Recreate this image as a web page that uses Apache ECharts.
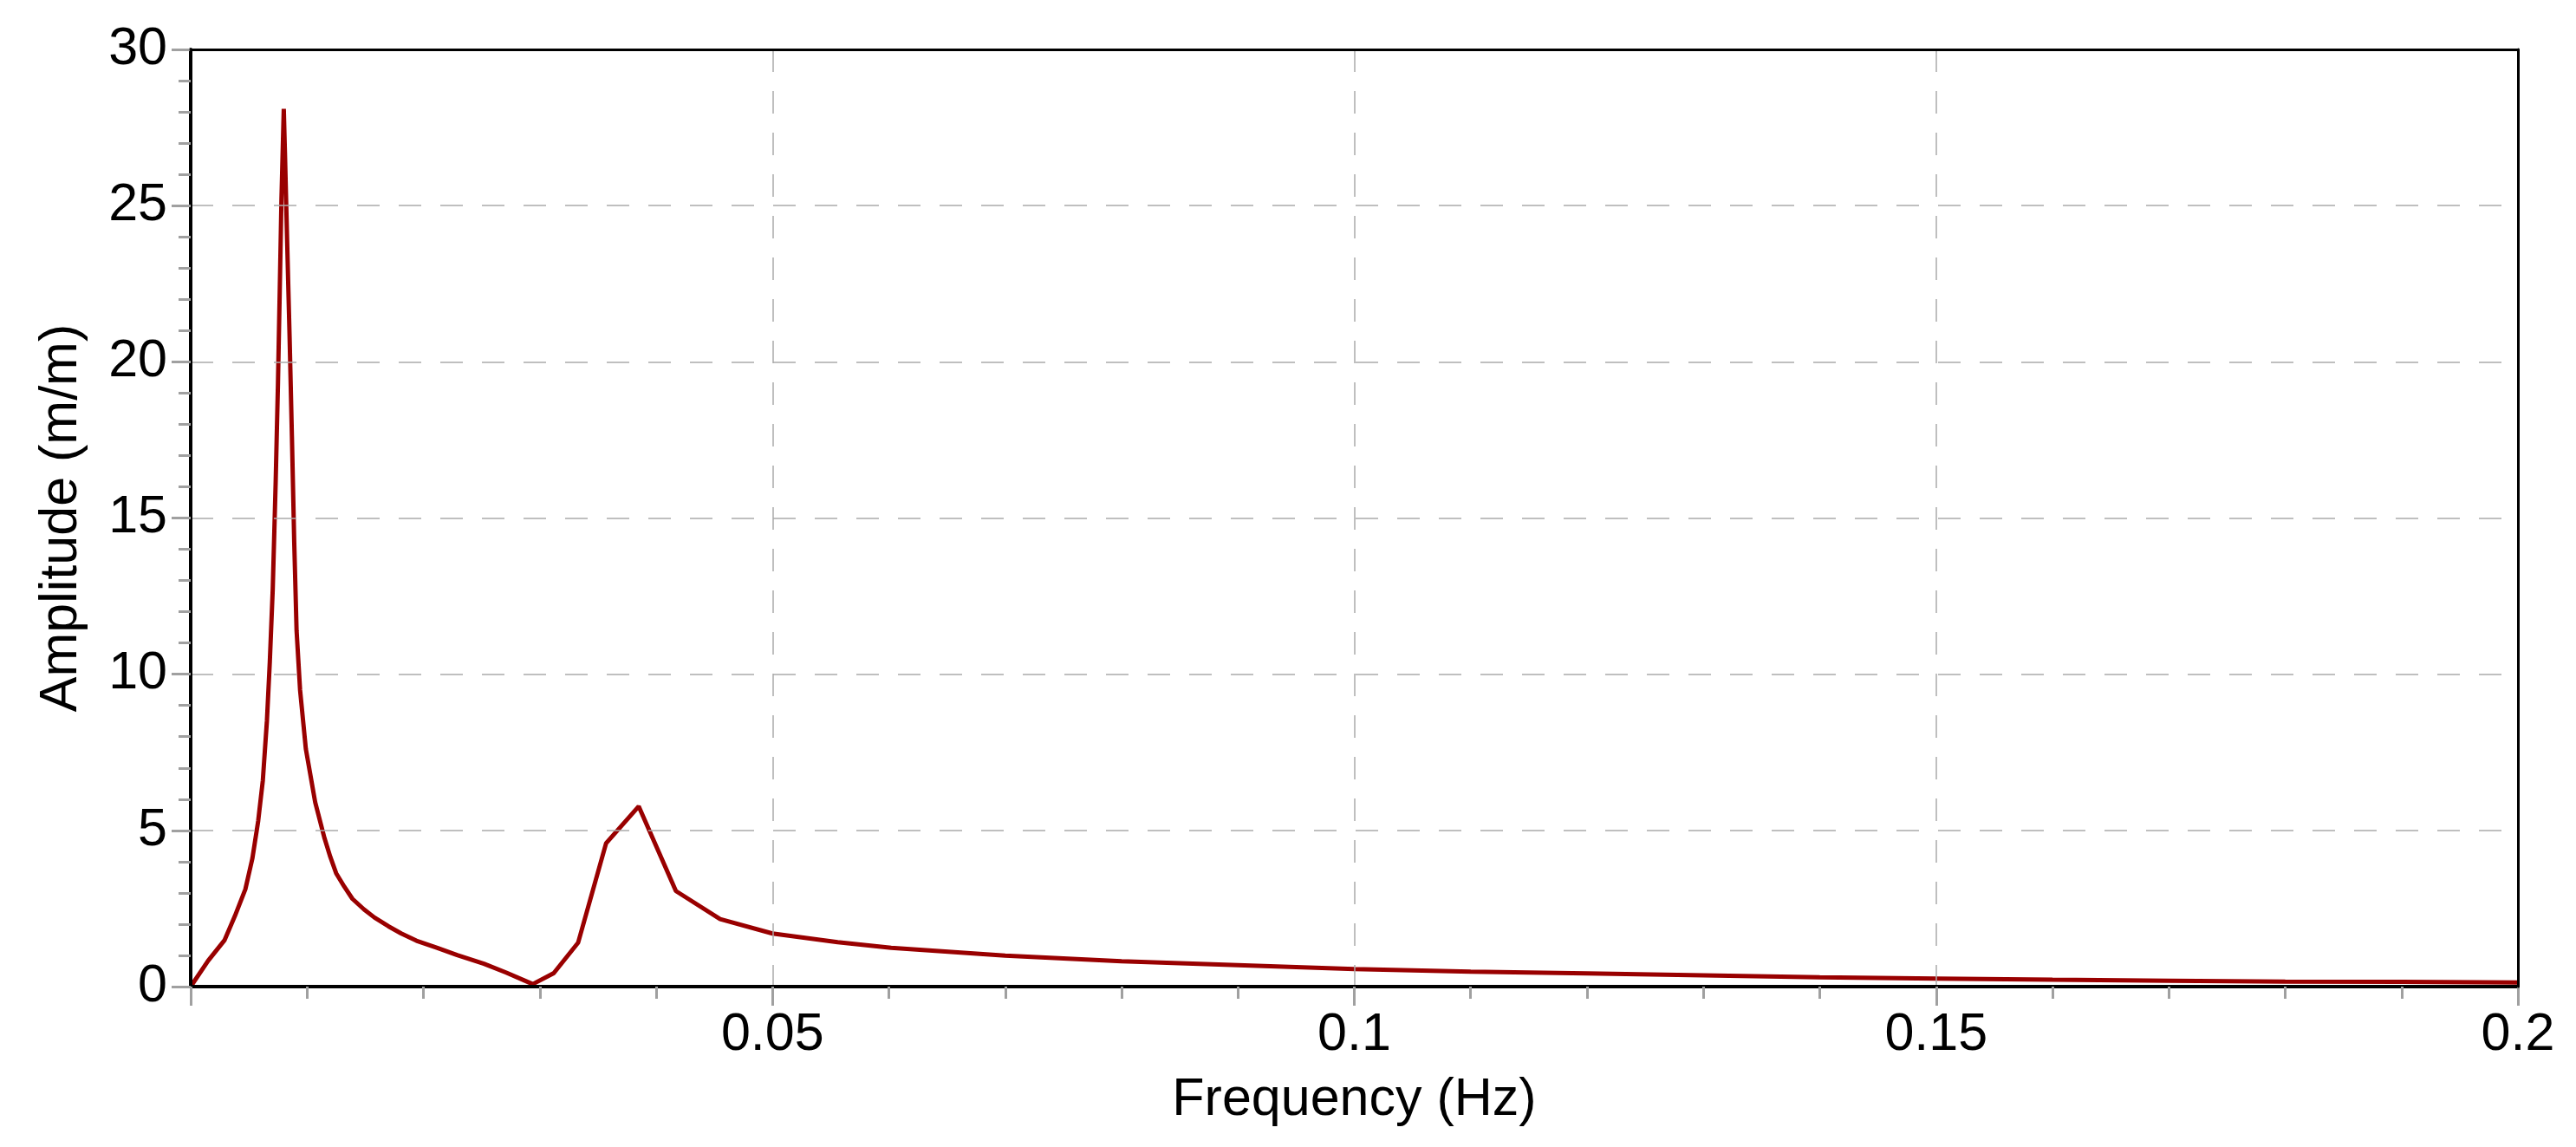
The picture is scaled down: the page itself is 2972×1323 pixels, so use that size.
<!DOCTYPE html>
<html>
<head>
<meta charset="utf-8">
<script src="https://cdn.jsdelivr.net/npm/echarts@6/dist/echarts.min.js"></script>
<style>
html,body{margin:0;padding:0;background:#ffffff;}
#c{width:2972px;height:1323px;}
</style>
</head>
<body>
<div id="c"></div>
<script>
// Frequency (Hz) of each sample
const freq = [0, 0.0015, 0.0029, 0.0038, 0.0047, 0.0053, 0.0058, 0.0062, 0.00655, 0.0068,
  0.00705, 0.0073, 0.0075, 0.00765, 0.0078, 0.0080, 0.0081, 0.0083, 0.0085, 0.0087,
  0.0089, 0.0091, 0.0094, 0.0099, 0.0107, 0.0115, 0.0120, 0.0125, 0.0132, 0.0139,
  0.0149, 0.0158, 0.0170, 0.0181, 0.0194, 0.0212, 0.0229, 0.0252, 0.0271, 0.0294,
  0.0312, 0.0333, 0.0357, 0.0385, 0.0417, 0.0455, 0.0500, 0.0556, 0.0602, 0.0700,
  0.0800, 0.0900, 0.1000, 0.1100, 0.1200, 0.1300, 0.1400, 0.1500, 0.1600, 0.1700,
  0.1800, 0.1900, 0.2000];
// Amplitude (m/m) of each sample
const amplitude = [0, 0.83, 1.48, 2.26, 3.12, 4.1, 5.3, 6.6, 8.5, 10.4,
  12.7, 16.1, 19.3, 22.2, 25.2, 28.1, 26.7, 23.7, 20.8, 17.6,
  14.2, 11.4, 9.5, 7.6, 5.9, 4.75, 4.15, 3.63, 3.2, 2.81,
  2.47, 2.21, 1.93, 1.70, 1.47, 1.24, 1.01, 0.73, 0.45, 0.08,
  0.43, 1.41, 4.59, 5.77, 3.06, 2.16, 1.70, 1.42, 1.24, 0.99,
  0.81, 0.69, 0.56, 0.48, 0.42, 0.36, 0.30, 0.26, 0.22, 0.19,
  0.16, 0.15, 0.13];
// Tick labels
const xTickLabels = ['0.05', '0.1', '0.15', '0.2'];
const yTickLabels = ['0', '5', '10', '15', '20', '25', '30'];

const FONT = "'Liberation Sans', Arial, sans-serif";
const chart = echarts.init(document.getElementById('c'), null, {renderer: 'canvas'});

const tickStyle = {color: '#a0a0a0', width: 3};
const gridLine = {color: '#ababab', width: 1.5, type: [26, 22]};

function frameAxis(pos, isX) {
  const a = {
    type: 'value', position: pos,
    axisLine: {show: true, onZero: false, lineStyle: {color: '#000', width: 3}},
    axisTick: {show: false}, axisLabel: {show: false},
    splitLine: {show: false}, minorTick: {show: false}, z: 5
  };
  if (isX) { a.min = 0; a.max = 0.2; a.interval = 0.05; }
  else { a.min = 0; a.max = 30; a.interval = 5; }
  return a;
}

chart.setOption({
  animation: false,
  backgroundColor: '#ffffff',
  grid: {left: 220, right: 67, top: 57, bottom: 185, show: false},
  xAxis: [{
    type: 'value', min: 0, max: 0.2, interval: 0.05, position: 'bottom',
    name: 'Frequency (Hz)', nameLocation: 'middle', nameGap: 101,
    nameTextStyle: {fontFamily: FONT, fontSize: 61, color: '#000'},
    axisLine: {show: true, onZero: false, lineStyle: {color: '#000', width: 4}},
    axisTick: {show: true, length: 22, lineStyle: tickStyle},
    minorTick: {show: true, splitNumber: 5, length: 14, lineStyle: tickStyle},
    axisLabel: {
      show: true, margin: 26, fontFamily: FONT, fontSize: 61, color: '#000', showMinLabel: false,
      formatter: function (v) {
        const i = Math.round(v / 0.05) - 1;
        return i >= 0 && i < xTickLabels.length ? xTickLabels[i] : '';
      }
    },
    splitLine: {show: true, lineStyle: gridLine},
    minorSplitLine: {show: false},
    z: 4
  }, frameAxis('top', true)],
  yAxis: [{
    type: 'value', min: 0, max: 30, interval: 5, position: 'left',
    name: 'Amplitude (m/m)', nameLocation: 'middle', nameGap: 118, nameRotate: 90,
    nameTextStyle: {fontFamily: FONT, fontSize: 61, color: '#000'},
    axisLine: {show: true, onZero: false, lineStyle: {color: '#000', width: 4}},
    axisTick: {show: true, length: 22, lineStyle: tickStyle},
    minorTick: {show: true, splitNumber: 5, length: 14, lineStyle: tickStyle},
    axisLabel: {
      show: true, margin: 27, fontFamily: FONT, fontSize: 61, color: '#000',
      formatter: function (v) {
        const i = Math.round(v / 5);
        return yTickLabels[i] !== undefined ? yTickLabels[i] : '';
      }
    },
    splitLine: {show: true, lineStyle: gridLine},
    minorSplitLine: {show: false},
    z: 4
  }, frameAxis('right', false)],
  series: [{
    type: 'line',
    xAxisIndex: 0, yAxisIndex: 0,
    data: freq.map(function (f, i) { return [f, amplitude[i]]; }),
    showSymbol: false,
    symbol: 'none',
    clip: true,
    lineStyle: {color: '#990000', width: 5},
    z: 3
  }]
});
</script>
</body>
</html>
